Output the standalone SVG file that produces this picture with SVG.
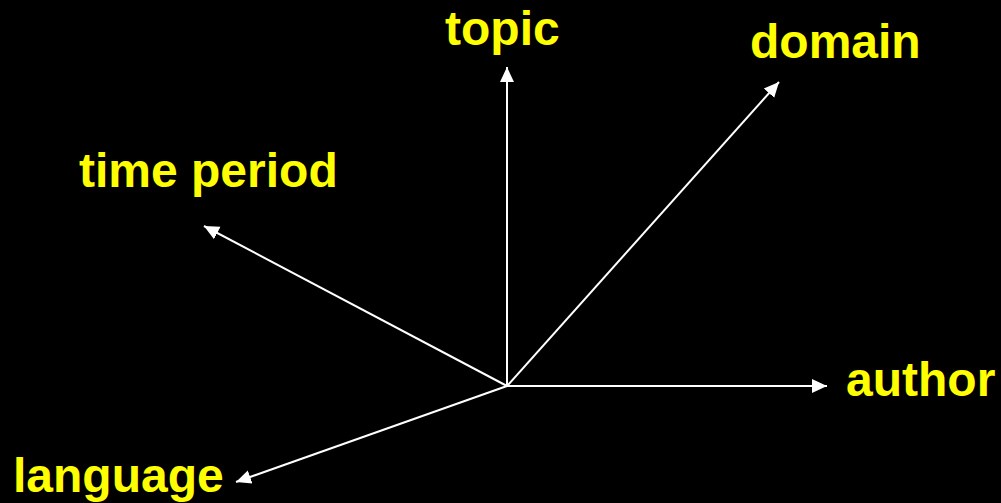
<svg xmlns="http://www.w3.org/2000/svg" width="1001" height="503" viewBox="0 0 1001 503">
<style>
.lbl{font-family:"Liberation Sans",Arial,sans-serif;font-weight:bold;font-size:48px;fill:#ffff00}
.ax{stroke:#ffffff;stroke-width:2;fill:none;marker-end:url(#ah)}
</style>
<defs>
<marker id="ah" markerUnits="userSpaceOnUse" markerWidth="16" markerHeight="16" refX="15" refY="7" orient="auto" viewBox="0 0 16 14">
<path d="M0,0 L15,7 L0,14 z" fill="#ffffff"/>
</marker>
</defs>
<rect width="1001" height="503" fill="#000000"/>
<g id="connectors">
<line class="ax" x1="507" y1="386" x2="507" y2="67"/>
<line class="ax" x1="507" y1="386" x2="779" y2="82"/>
<line class="ax" x1="507" y1="386" x2="827" y2="386"/>
<line class="ax" x1="507" y1="386" x2="204" y2="226"/>
<line class="ax" x1="507" y1="386" x2="236" y2="482"/>
</g>
<g id="topic"><text class="lbl" x="445" y="45">topic</text></g>
<g id="domain"><text class="lbl" x="750" y="58">domain</text></g>
<g id="time-period"><text class="lbl" x="79" y="187">time period</text></g>
<g id="author"><text class="lbl" x="846" y="396">author</text></g>
<g id="language"><text class="lbl" x="13" y="492">language</text></g>
</svg>
